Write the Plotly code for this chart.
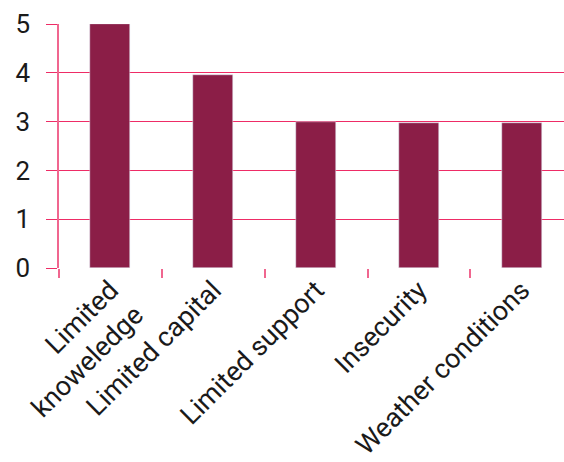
import plotly.graph_objects as go

categories = ["Limited<br>knoweledge", "Limited capital", "Limited support", "Insecurity", "Weather conditions"]
values = [5.0, 3.96, 3.0, 2.97, 2.97]
y_ticks = [0, 1, 2, 3, 4, 5]

BAR = "#8B1E47"
GRID = "#EE2C66"
AXIS = "#F0668F"
FONT = "Roboto"

fig = go.Figure(go.Bar(x=categories, y=values, marker_color=BAR, width=0.39))
fig.update_layout(
    width=564, height=462,
    margin=dict(l=59, r=0, t=24, b=194),
    plot_bgcolor="white", paper_bgcolor="white",
    font=dict(family=FONT, color="#1a1a1a"),
    showlegend=False,
    bargap=0,
)
fig.update_xaxes(
    type="category", range=[-0.5, 4.41], automargin=False,
    tickson="boundaries", ticks="outside", ticklen=9, tickcolor=AXIS, tickwidth=1.5,
    showline=False, showgrid=False, tickangle=-45,
    tickfont=dict(size=27, family=FONT, color="#1a1a1a"),
)
fig.update_yaxes(
    range=[0, 5], tickvals=y_ticks, showgrid=True, gridcolor=GRID, gridwidth=1.3,
    automargin=False,
    ticks="outside", ticklen=11, tickcolor=GRID, tickwidth=1.3,
    showline=True, linecolor=AXIS, linewidth=1.5, zeroline=False,
    tickfont=dict(size=26, family=FONT, color="#1a1a1a"),
    ticklabelstandoff=11,
)
fig.write_html("out.html")
